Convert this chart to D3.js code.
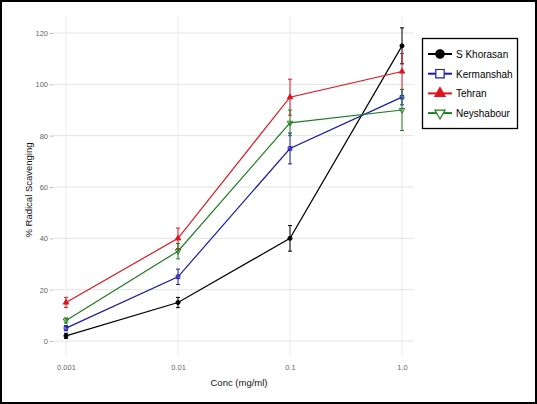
<!DOCTYPE html>
<html><head><meta charset="utf-8">
<script src="https://cdn.jsdelivr.net/npm/d3@7"></script>
<style>body{margin:0;background:#fff}svg{display:block}</style>
</head><body>
<svg id="c" width="537" height="404"></svg>
<script>
const concentrations = ["0.001", "0.01", "0.1", "1.0"];
const seriesNames = ["S Khorasan", "Kermanshah", "Tehran", "Neyshabour"];
const sKhorasan = [2, 15, 40, 115];
const sKhorasanErr = [1, 2, 5, 7];
const kermanshah = [5, 25, 75, 95];
const kermanshahErr = [1, 3, 6, 3];
const tehran = [15, 40, 95, 105];
const tehranErr = [2, 4, 7, 7];
const neyshabour = [8, 35, 85, 90];
const neyshabourErr = [1, 3, 5, 8];
const yTicks = [0, 20, 40, 60, 80, 100, 120];
const colors = ["#000000", "#1a1aa6", "#e0141e", "#1e7d1e"];
const symbols = [d3.symbolCircle, d3.symbolSquare, d3.symbolTriangle, d3.symbolTriangle];
const filled = [true, false, true, false];
const rotations = [0, 0, 0, 180];

const values = [sKhorasan, kermanshah, tehran, neyshabour];
const errs = [sKhorasanErr, kermanshahErr, tehranErr, neyshabourErr];

const svg = d3.select("#c");
svg.append("rect").attr("x",1).attr("y",1).attr("width",535).attr("height",402)
  .attr("fill","#fff").attr("stroke","#000").attr("stroke-width",2);

const panel = {l:53, r:414, t:16, b:357};
const x = d3.scalePoint().domain(concentrations).range([66, 402]);
const y = d3.scaleLinear().domain([0,120]).range([341, 33]);
const FONT = "Liberation Sans, Arial, sans-serif";

// grid
const g = svg.append("g");
g.selectAll(".hg").data(yTicks).join("line")
  .attr("x1", panel.l).attr("x2", panel.r)
  .attr("y1", d=>y(d)).attr("y2", d=>y(d))
  .attr("stroke","#e3e3e3").attr("stroke-width",1);
g.selectAll(".vg").data(concentrations).join("line")
  .attr("x1", d=>x(d)).attr("x2", d=>x(d))
  .attr("y1", panel.t).attr("y2", panel.b)
  .attr("stroke","#ececec").attr("stroke-width",1);

// axes
const yAxis = d3.axisLeft(y).tickValues(yTicks).tickSize(3).tickPadding(2);
const ya = svg.append("g").attr("transform",`translate(${panel.l},0)`).call(yAxis);
ya.select(".domain").remove();
ya.selectAll("line").attr("stroke","#bbb");
ya.selectAll("text").attr("fill","#666").style("font-family",FONT).style("font-size","7.5px");

const xAxis = d3.axisBottom(x).tickSize(0).tickPadding(6);
const xa = svg.append("g").attr("transform",`translate(0,359)`).call(xAxis);
xa.select(".domain").remove();
xa.selectAll("text").attr("fill","#666").style("font-family",FONT).style("font-size","7.5px");

svg.append("text").attr("x",239).attr("y",386).attr("text-anchor","middle")
  .style("font-family",FONT).style("font-size","9.5px").attr("fill","#111")
  .text("Conc (mg/ml)");
svg.append("text").attr("transform","translate(32,190) rotate(-90)").attr("text-anchor","middle")
  .style("font-family",FONT).style("font-size","9.5px").attr("fill","#111")
  .text("% Radical Scavenging");

// series
const line = d3.line().x((d,i)=>x(concentrations[i])).y(d=>y(d));
values.forEach((vals, s) => {
  const sg = svg.append("g");
  vals.forEach((v,i)=>{
    const cx = x(concentrations[i]), e = errs[s][i];
    sg.append("line").attr("x1",cx).attr("x2",cx).attr("y1",y(v+e)).attr("y2",y(v-e)).attr("stroke",colors[s]).attr("stroke-width",1);
    [v+e, v-e].forEach(t=>sg.append("line").attr("x1",cx-2).attr("x2",cx+2).attr("y1",y(t)).attr("y2",y(t)).attr("stroke",colors[s]).attr("stroke-width",1));
  });
  sg.append("path").datum(vals).attr("d",line).attr("fill","none").attr("stroke",colors[s]).attr("stroke-width",1.2);
  sg.selectAll(".m").data(vals).join("path")
    .attr("transform",(d,i)=>`translate(${x(concentrations[i])},${y(d)}) rotate(${rotations[s]})`)
    .attr("d", d3.symbol(symbols[s], 13))
    .attr("fill", filled[s] ? colors[s] : "none")
    .attr("stroke", colors[s]).attr("stroke-width",1);
});

// legend
const lg = svg.append("g");
lg.append("rect").attr("x",422.5).attr("y",38.5).attr("width",95).attr("height",90)
  .attr("fill","#fff").attr("stroke","#000").attr("stroke-width",1.3);
seriesNames.forEach((name,s)=>{
  const ly = 54 + s*19.7;
  lg.append("line").attr("x1",428).attr("x2",452).attr("y1",ly).attr("y2",ly).attr("stroke",colors[s]).attr("stroke-width",2);
  lg.append("path").attr("transform",`translate(440,${ly}) rotate(${rotations[s]})`)
    .attr("d", d3.symbol(symbols[s], s===0?55:(s===1?70:45)))
    .attr("fill", filled[s] ? colors[s] : "#fff").attr("stroke",colors[s]).attr("stroke-width",1.2);
  lg.append("text").attr("transform",`translate(456,${ly+4}) scale(0.87,1)`).text(name)
    .style("font-family",FONT).style("font-size","11.5px").attr("fill","#000");
});
</script>
</body></html>
